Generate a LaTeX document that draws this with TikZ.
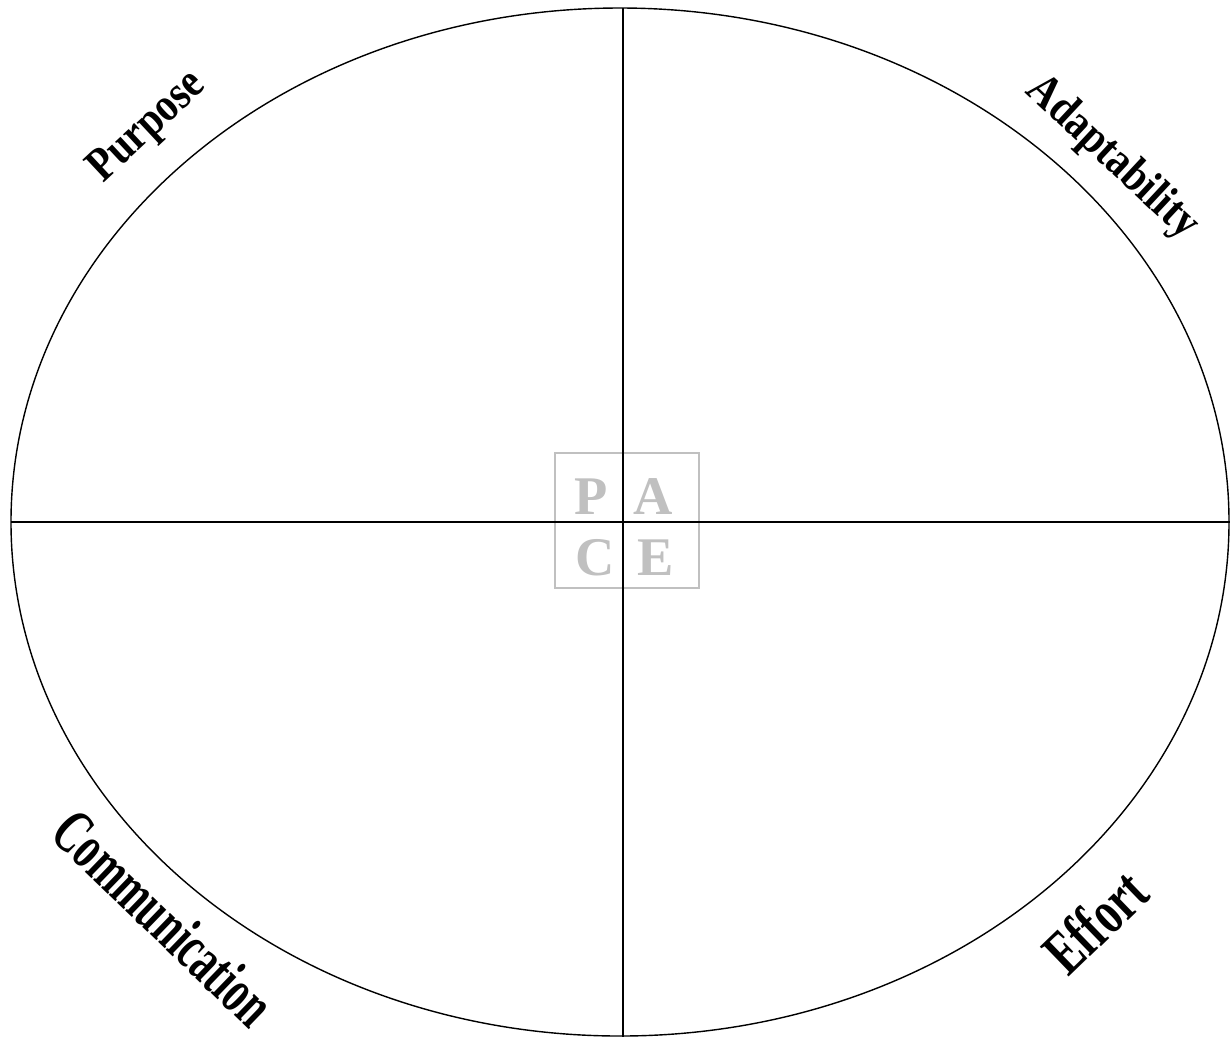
\documentclass[tikz,border=0pt]{standalone}
\usepackage{fontspec}
\setmainfont{Liberation Serif}
\usepackage{xcolor}
\usepackage{graphicx}
\usepackage{tikz}
\definecolor{pacegray}{RGB}{192,192,192}
\newlength{\px}
\setlength{\px}{0.02cm}
\newcommand{\squeeze}[2]{\scalebox{#1}[1]{#2}}
\tikzset{
  axis/.style={draw=black, line width=0.8pt},
  rim/.style={draw=black, line width=0.8pt},
  word/.style={font=\bfseries\fontsize{27}{30}\selectfont, inner sep=0pt},
  tallword/.style={font=\bfseries\fontsize{36}{40}\selectfont, inner sep=0pt},
  letter/.style={font=\bfseries\fontsize{31}{34}\selectfont, text=pacegray, inner sep=0pt},
  pacebox/.style={draw=pacegray, line width=1pt, minimum width=144\px, minimum height=135\px, inner sep=0pt},
}
\begin{document}
\begin{tikzpicture}[x=0.02cm, y=-0.02cm]
  \useasboundingbox (0,0) rectangle (1230,1036);
  % outer ring and the box in the middle
  \draw[rim] (620,522) ellipse [x radius=609, y radius=514];
  \node[pacebox] (box) at (627,520.5) {};
  % axes
  \coordinate (top)    at (623,8);
  \coordinate (bottom) at (623,1040);
  \coordinate (left)   at (11,522);
  \coordinate (right)  at (1232,522);
  \draw[axis] (top) -- (bottom);
  \draw[axis] (left) -- (right);
  % letters
  \node[letter] (P) at (591,497) {P};
  \node[letter] (A) at (653,497) {A};
  \node[letter] (C) at (595,558) {C};
  \node[letter] (E) at (656,558) {E};
  % quadrant names
  \node[word, rotate=43]      (purpose) at (148,128)  {\squeeze{0.85}{Purpose}};
  \node[word, rotate=-43]     (adapt)   at (1112,158) {\squeeze{0.85}{Adaptability}};
  \node[tallword, rotate=-44] (comm)    at (164,918)  {\squeeze{0.64}{Communication}};
  \node[tallword, rotate=44]  (effort)  at (1095,922) {\squeeze{0.7}{Effort}};
\end{tikzpicture}
\end{document}
